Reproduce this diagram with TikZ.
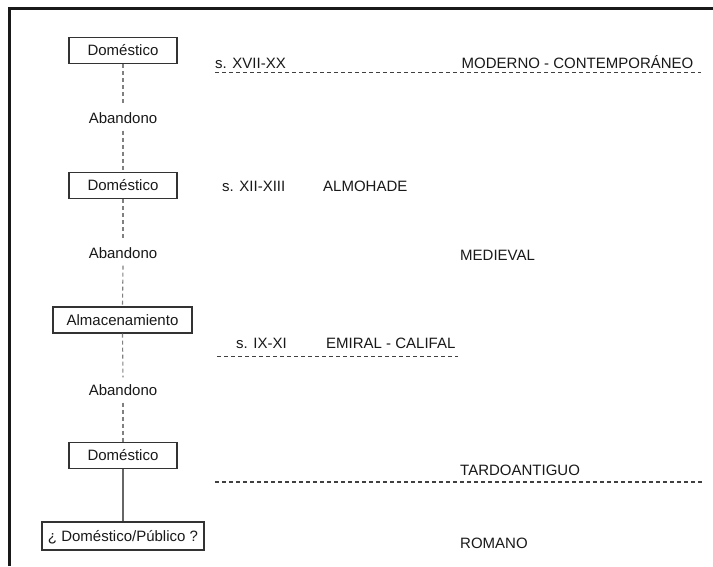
\documentclass[tikz,border=0pt]{standalone}
\usepackage{fontspec}
\setmainfont{Liberation Sans}
\begin{document}
\begin{tikzpicture}[x=1pt,y=-1pt,
  lbl/.style={font=\fontsize{15}{17}\selectfont, text=black!90, inner sep=0pt, text height=10.7pt, text depth=0pt},
  box/.style={lbl, draw=black!80, line width=1.1pt, minimum height=26pt},
  aband/.style={lbl, inner ysep=7pt},
  vdash/.style={draw=black!50, line width=1.1pt, dash pattern=on 4pt off 3pt},
  hdash/.style={draw=black!75, line width=1.1pt, dash pattern=on 4pt off 3pt},
  solidlink/.style={draw=black!60, line width=1.1pt}]
\useasboundingbox (0,0) rectangle (713,566);
\fill[white] (0,0) rectangle (713,566);
% frame
\draw[line width=2.6pt, black!90] (9.5,566) -- (9.5,8.7) -- (713,8.7);

% left column
\node[box, minimum width=108pt] (d1) at (123,50.5) {Doméstico};
\node[aband] (a1) at (123,118) {Abandono};
\node[box, minimum width=108pt] (d2) at (123,185.5) {Doméstico};
\node[aband] (a2) at (123,253) {Abandono};
\node[box, minimum width=139pt] (al) at (122.5,320) {Almacenamiento};
\node[aband] (a3) at (123,390) {Abandono};
\node[box, minimum width=108pt] (d4) at (123,455.5) {Doméstico};
\node[box, minimum width=162pt, minimum height=28pt] (dp) at (123,536) {¿ Doméstico/Público ?};

\draw[vdash] (d1.south) -- (a1.north);
\draw[vdash] (a1.south) -- (d2.north);
\draw[vdash] (d2.south) -- (a2.north);
\draw[vdash] (a2.south) -- (al.north);
\draw[vdash] (al.south) -- (a3.north);
\draw[vdash] (a3.south) -- (d4.north);
\draw[solidlink] (d4.south) -- (dp.north);

% right side labels
\node[lbl, anchor=west] (s1) at (215,63) {s. XVII-XX};
\node[lbl, anchor=west] (p1) at (461.5,63) {MODERNO - CONTEMPORÁNEO};
\node[lbl, anchor=west] (s2) at (222,186) {s. XII-XIII};
\node[lbl, anchor=west] (p2) at (323,186) {ALMOHADE};
\node[lbl, anchor=west] (p3) at (460,255) {MEDIEVAL};
\node[lbl, anchor=west] (s3) at (236,343) {s. IX-XI};
\node[lbl, anchor=west] (p4) at (326,343) {EMIRAL - CALIFAL};
\node[lbl, anchor=west] (p5) at (460,470) {TARDOANTIGUO};
\node[lbl, anchor=west] (p6) at (460,543) {ROMANO};

% period separators
\coordinate (h1a) at (215,72.5);
\coordinate (h1b) at (701,72.5);
\coordinate (h2a) at (217,356.5);
\coordinate (h2b) at (458,356.5);
\coordinate (h3a) at (215,482);
\coordinate (h3b) at (702,482);
\draw[hdash] (h1a) -- (h1b);
\draw[hdash] (h2a) -- (h2b);
\draw[hdash] (h3a) -- (h3b);
\end{tikzpicture}
\end{document}
